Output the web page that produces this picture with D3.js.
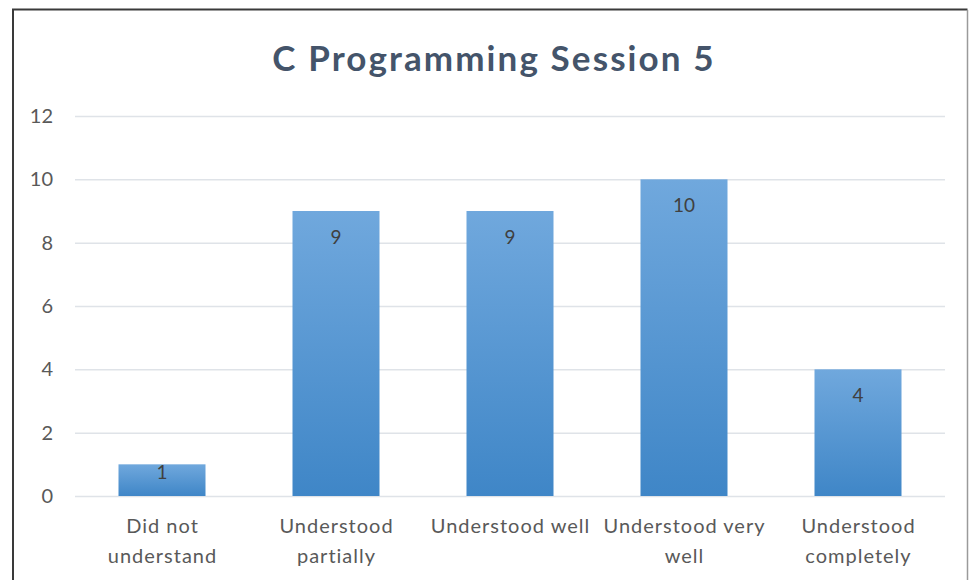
<!DOCTYPE html>
<html><head><meta charset="utf-8">
<script src="https://cdn.jsdelivr.net/npm/d3@7"></script>
<style>body{margin:0;background:#fff}svg{display:block}</style>
</head><body>
<script>
const title = "C Programming Session 5";
const categories = [["Did not","understand"],["Understood","partially"],["Understood well"],["Understood very","well"],["Understood","completely"]];
const values = [1, 9, 9, 10, 4];
const yTicks = [0, 2, 4, 6, 8, 10, 12];

const W = 969, H = 580;
const FONT = "Lato, 'Open Sans', sans-serif";
const svg = d3.select("body").append("svg").attr("width", W).attr("height", H);
const defs = svg.append("defs");
const g1 = defs.append("linearGradient").attr("id","bg").attr("x1",0).attr("y1",0).attr("x2",0).attr("y2",1);
g1.append("stop").attr("offset","0%").attr("stop-color","#70a8dd");
g1.append("stop").attr("offset","100%").attr("stop-color","#3f86c7");

svg.append("rect").attr("width",W).attr("height",H).attr("fill","#fff");
svg.append("path").attr("d","M13,600 L13,9.5 L967.5,9.5").attr("fill","none").attr("stroke","#3a3a3a").attr("stroke-width",2);
svg.append("line").attr("x1",967.5).attr("x2",967.5).attr("y1",10).attr("y2",600).attr("stroke","#9a9a9a").attr("stroke-width",1.5);

const m = {l:75, r:945, t:116, b:496};
const x = d3.scaleBand().domain(d3.range(categories.length)).range([m.l, m.r]).paddingInner(0.5).paddingOuter(0.25);
const y = d3.scaleLinear().domain([0, 12]).range([m.b, m.t]);

svg.append("text").attr("x", 494).attr("y", 71).attr("text-anchor","middle")
  .attr("font-family",FONT).attr("font-weight","bold").attr("font-size",35).attr("letter-spacing",2.1)
  .attr("fill","#44546a").text(title);

// grid
svg.append("g").selectAll("line").data(yTicks).join("line")
  .attr("x1", m.l).attr("x2", m.r).attr("y1", d=>y(d)+0.5).attr("y2", d=>y(d)+0.5)
  .attr("stroke","#dfe3e8").attr("stroke-width",1.5);

// y axis
const ya = svg.append("g").attr("transform",`translate(${m.l},0)`).call(d3.axisLeft(y).tickValues(yTicks).tickSize(0).tickPadding(22));
ya.select(".domain").remove();
ya.selectAll("text").attr("font-family",FONT).attr("font-size",20).attr("fill","#595959");

// bars
svg.append("g").selectAll("rect").data(values).join("rect")
  .attr("x",(d,i)=>x(i)).attr("width",x.bandwidth())
  .attr("y",d=>y(d)).attr("height",d=>y(0)-y(d)).attr("fill","url(#bg)");

// value labels
svg.append("g").selectAll("text").data(values).join("text")
  .attr("x",(d,i)=>x(i)+x.bandwidth()/2)
  .attr("y",d=>{const h=y(0)-y(d); return y(d)+Math.min(26, h/2-8);})
  .attr("dy","0.35em").attr("text-anchor","middle")
  .attr("font-family",FONT).attr("font-size",19).attr("fill","#404040")
  .text(d=>d);

// x labels
const xl = svg.append("g").selectAll("text").data(categories).join("text")
  .attr("x",(d,i)=>x(i)+x.bandwidth()/2).attr("y",533).attr("text-anchor","middle")
  .attr("font-family",FONT).attr("font-size",20).attr("letter-spacing",1).attr("fill","#595959");
xl.selectAll("tspan").data(d=>d).join("tspan")
  .attr("x",function(){return +this.parentNode.getAttribute("x")+0.5;})
  .attr("dy",(d,i)=>i===0?0:30).text(d=>d);
</script>
</body></html>
